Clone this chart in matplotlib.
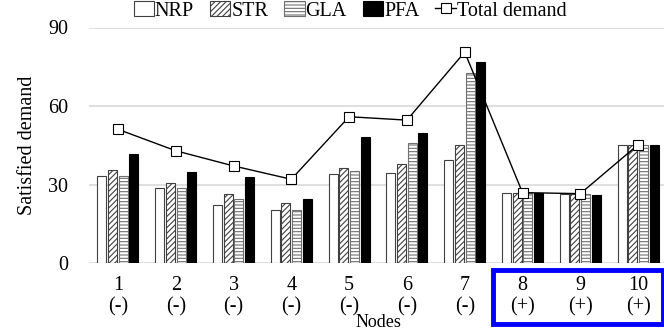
import matplotlib
matplotlib.use("Agg")
import matplotlib.pyplot as plt
import numpy as np
from matplotlib.patches import Rectangle

plt.rcParams['font.family'] = ['Liberation Serif', 'DejaVu Serif']
plt.rcParams['hatch.linewidth'] = 0.8
plt.rcParams['hatch.color'] = '#606060'

nodes = ['1', '2', '3', '4', '5', '6', '7', '8', '9', '10']
signs = ['(-)', '(-)', '(-)', '(-)', '(-)', '(-)', '(-)', '(+)', '(+)', '(+)']
nrp = [33.2, 28.5, 22.0, 20.1, 34.0, 34.5, 39.2, 26.9, 26.2, 45.1]
strv = [35.5, 30.5, 26.5, 22.8, 36.2, 37.7, 45.0, 26.9, 26.2, 45.0]
gla = [33.4, 28.5, 24.3, 20.4, 35.2, 45.7, 72.7, 26.9, 26.2, 45.0]
pfa = [41.5, 34.7, 32.7, 24.3, 48.0, 49.8, 76.7, 26.6, 26.0, 45.0]
total = [51.1, 42.9, 37.1, 32.0, 55.9, 54.6, 80.6, 26.9, 26.5, 45.2]
yticks = [0, 30, 60, 90]

FS = 14.5

fig = plt.figure(figsize=(6.64, 3.32), dpi=100)
ax = fig.add_axes([89/664, 69/332, 578/664, (263-27.5)/332])

x = np.arange(len(nodes))
step = 0.185
w = 0.155
edge = '#404040'
h1 = ax.bar(x - 1.5*step, nrp, w, facecolor='white', edgecolor=edge, linewidth=0.8, zorder=3, label='NRP')
h2 = ax.bar(x - 0.5*step, strv, w, facecolor='white', edgecolor=edge, linewidth=0.8, hatch='//////', zorder=3, label='STR')
h3 = ax.bar(x + 0.5*step, gla, w, facecolor='white', edgecolor='#707070', linewidth=0.8, hatch='-----', zorder=3, label='GLA')
h4 = ax.bar(x + 1.5*step, pfa, w, facecolor='black', edgecolor='black', linewidth=0.8, zorder=3, label='PFA')
h5, = ax.plot(x, total, color='black', linewidth=1.0, marker='s', markersize=7,
              markerfacecolor='white', markeredgecolor='black', markeredgewidth=0.8, zorder=5,
              label='Total demand')

ax.set_xlim(-0.5, 9.5)
ax.set_ylim(0, 90)
ax.set_yticks(yticks)
ax.set_xticks(x)
ax.set_xticklabels([f'{n}\n{s}' for n, s in zip(nodes, signs)], fontsize=FS, linespacing=1.2)
ax.tick_params(axis='both', length=0, labelsize=FS)
ax.tick_params(axis='x', pad=9)
ax.tick_params(axis='y', pad=15)
for s in ax.spines.values():
    s.set_visible(False)
ax.grid(axis='y', color='#d9d9d9', linewidth=1.2, zorder=0)
ax.set_axisbelow(True)
ax.set_ylabel('Satisfied demand', fontsize=FS, labelpad=8)

fig.text((89 + 578/2)/664, 0.002, 'Nodes', fontsize=13, ha='center', va='bottom')

leg = ax.legend([h1, h2, h3, h4, h5], ['NRP', 'STR', 'GLA', 'PFA', 'Total demand'],
                loc='center', bbox_to_anchor=(((350-89)/578), 1 + (27.5-11)/235.5), ncol=5, frameon=False,
                fontsize=FS, handlelength=1.0, handleheight=0.7, handletextpad=0.05,
                columnspacing=0.8, borderaxespad=0, borderpad=0)

rect = Rectangle((493/664, 1 - 324/332), (663-493)/664, (324-270)/332, transform=fig.transFigure,
                 fill=False, edgecolor='#0000ff', linewidth=3.5, clip_on=False, zorder=10)
fig.patches.append(rect)

fig.savefig('out.png', dpi=100)
